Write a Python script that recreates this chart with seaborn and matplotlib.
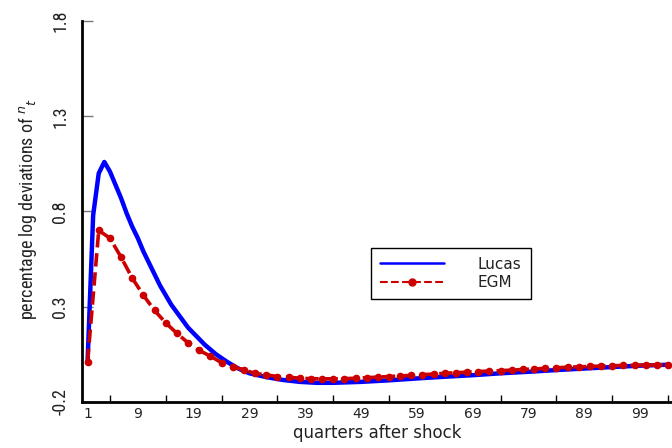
import matplotlib
matplotlib.use("Agg")
import matplotlib.pyplot as plt
from matplotlib.lines import Line2D
from matplotlib import font_manager
import seaborn as sns
import pandas as pd

# ── data ────────────────────────────────────────────────
lucas_q = [1, 2, 3, 4, 5, 6, 7, 8, 9, 10, 11, 12, 13, 14, 15, 16, 17, 18, 19, 20,
           22, 24, 26, 28, 30, 33, 36, 39, 42, 45, 50, 55, 60, 65, 70, 75, 80, 85,
           90, 95, 100, 105]
lucas_v = [0.01, 0.78, 1.00, 1.06, 1.01, 0.94, 0.87, 0.79, 0.72, 0.66, 0.59, 0.53,
           0.47, 0.41, 0.36, 0.31, 0.27, 0.23, 0.19, 0.16, 0.10, 0.05, 0.01, -0.025,
           -0.05, -0.07, -0.085, -0.095, -0.10, -0.10, -0.095, -0.087, -0.077,
           -0.068, -0.06, -0.05, -0.042, -0.033, -0.025, -0.017, -0.01, -0.005]

egm_q = list(range(1, 106, 2))
egm_v = [0.01, 0.70, 0.66, 0.56, 0.45, 0.36, 0.28, 0.215, 0.16, 0.11, 0.07, 0.04,
         0.006, -0.015, -0.032, -0.05, -0.058, -0.067, -0.07, -0.076, -0.078,
         -0.079, -0.079, -0.078, -0.076, -0.073, -0.07, -0.067, -0.064, -0.061,
         -0.057, -0.054, -0.05, -0.047, -0.044, -0.041, -0.038, -0.036, -0.033,
         -0.03, -0.027, -0.024, -0.021, -0.018, -0.016, -0.014, -0.012, -0.010,
         -0.009, -0.008, -0.007, -0.006, -0.005]

xtick_pos = [1, 10, 20, 30, 40, 50, 60, 70, 80, 90, 100]
xtick_lab = ["1", "9", "19", "29", "39", "49", "59", "69", "79", "89", "99"]
ytick_pos = [-0.2, 0.3, 0.8, 1.3, 1.8]
ytick_lab = ["-0.2", "0.3", "0.8", "1.3", "1.8"]

BLUE = "#0000ff"
RED = "#cc0000"
TXT = "#222222"

sns.set_style("ticks")
plt.rcParams["font.family"] = ["DejaVu Sans"]

# narrow face for the vertical texts, if one is around
names = {f.name for f in font_manager.fontManager.ttflist}
narrow = None
for cand in ["Liberation Sans Narrow", "DejaVu Sans Condensed", "Roboto Condensed",
             "Open Sans Condensed", "Noto Sans Condensed"]:
    if cand in names:
        narrow = cand
        break
NARROW = dict(family=[narrow, "DejaVu Sans"]) if narrow else dict(family=["DejaVu Sans"], stretch="condensed")

lucas_df = pd.DataFrame({"q": lucas_q, "v": lucas_v})
egm_df = pd.DataFrame({"q": egm_q, "v": egm_v})

fig = plt.figure(figsize=(6.72, 4.48), dpi=100)
ax = fig.add_axes([0.122, 0.103, 0.878, 0.850])

sns.lineplot(data=lucas_df, x="q", y="v", color=BLUE, lw=3.2, ax=ax)
sns.lineplot(data=egm_df, x="q", y="v", color=RED, lw=2.6, ls="--",
             marker="o", markersize=5.5, markeredgewidth=0, ax=ax)

ax.set_xlim(0, 105.7)
ax.set_ylim(-0.2, 1.8)

ax.set_xticks(xtick_pos)
ax.set_xticklabels(xtick_lab, fontsize=10, color=TXT)
ax.set_xticks(list(range(5, 106, 5)), minor=True)
ax.tick_params(axis="x", which="major", length=0, pad=4)
ax.tick_params(axis="x", which="minor", direction="in", length=5, width=1, color="black")

ax.set_yticks(ytick_pos)
ax.set_yticklabels(ytick_lab, rotation=90, va="center", fontsize=13, color=TXT,
                   **NARROW)
ax.tick_params(axis="y", direction="in", length=8, width=1, color="#777777", pad=9)

sns.despine(ax=ax)
for s in ["left", "bottom"]:
    ax.spines[s].set_linewidth(2)
    ax.spines[s].set_color("black")

ax.set_xlabel("quarters after shock", fontsize=12, va="center", color=TXT)
ax.xaxis.set_label_coords(0.5, -0.081)
ax.set_ylabel(r"percentage log deviations of $^{n}{}_{t}$", fontsize=13,
              va="center", color=TXT, **NARROW)
ax.yaxis.set_label_coords(-0.093, 0.508)

handles = [Line2D([], [], color=BLUE, lw=1.8),
           Line2D([], [], color=RED, lw=1.5, ls="--", marker="o", markersize=5,
                  markevery=[0])]
leg = ax.legend(handles, ["Lucas", "EGM"], loc="upper left",
                bbox_to_anchor=(363 / 672, 1 - 240 / 448),
                bbox_transform=fig.transFigure, fontsize=11, handlelength=4.2,
                handletextpad=2.2, labelspacing=0.2, borderpad=0.6,
                fancybox=False, framealpha=1, edgecolor="black")
leg.get_frame().set_linewidth(1)
for t in leg.get_texts():
    t.set_color(TXT)

fig.savefig("out.png", dpi=100)
